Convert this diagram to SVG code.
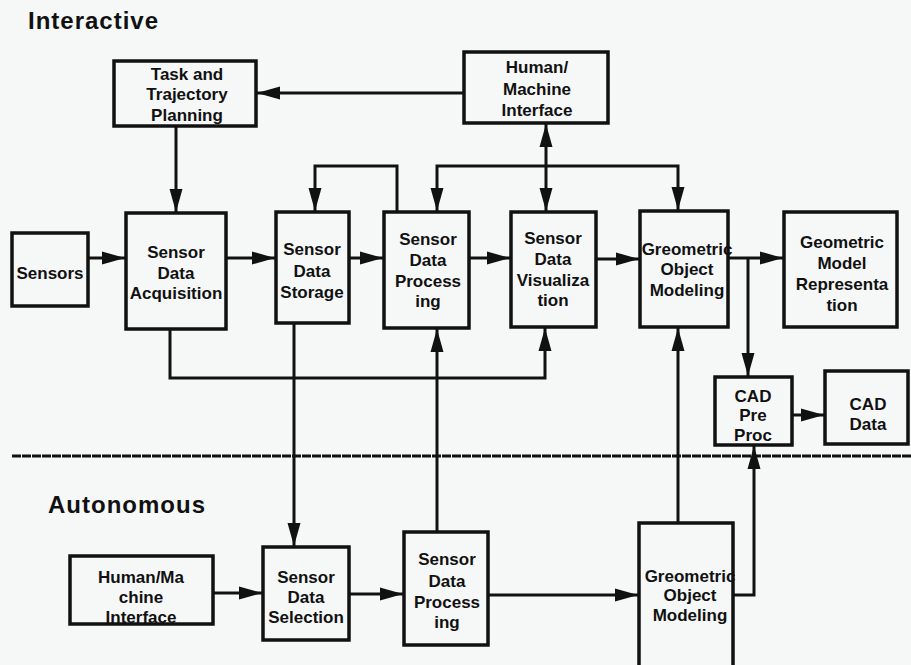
<svg xmlns="http://www.w3.org/2000/svg" width="911" height="665" viewBox="0 0 911 665">
<defs>
<style>
.bg{fill:#f6f8f8}
.box{fill:none;stroke:#111;stroke-width:3.5}
.c{fill:none;stroke:#111;stroke-width:3}
.t{font-family:"Liberation Sans",Arial,Helvetica,sans-serif;font-weight:bold;font-size:17px;text-anchor:middle;fill:#111}
.h{font-family:"Liberation Sans",Arial,Helvetica,sans-serif;font-weight:bold;font-size:24px;letter-spacing:1px;fill:#111}
</style>
<marker id="ah" markerUnits="userSpaceOnUse" markerWidth="24" markerHeight="14" refX="23" refY="7" orient="auto-start-reverse" viewBox="0 0 24 14">
<path d="M0,0.5 L23,7 L0,13.5 z" fill="#111"/>
</marker>
</defs>
<rect class="bg" x="0" y="0" width="911" height="665"/>

<text class="h" x="28" y="29">Interactive</text>
<text class="h" x="48" y="513">Autonomous</text>
<line x1="12" y1="456" x2="911" y2="456" stroke="#111" stroke-width="3" stroke-dasharray="9 1"/>

<g id="connectors">
<path class="c" d="M464,93 L257,93" marker-end="url(#ah)"/>
<path class="c" d="M176,126 L176,212" marker-end="url(#ah)"/>
<path class="c" d="M88,258 L125,258" marker-end="url(#ah)"/>
<path class="c" d="M226,258 L275,258" marker-end="url(#ah)"/>
<path class="c" d="M349,258 L383,258" marker-end="url(#ah)"/>
<path class="c" d="M469,258 L510,258" marker-end="url(#ah)"/>
<path class="c" d="M596,259 L639,259" marker-end="url(#ah)"/>
<path class="c" d="M728,258 L783,258" marker-end="url(#ah)"/>
<path class="c" d="M748,258 L748,376" marker-end="url(#ah)"/>
<path class="c" d="M792,415 L824,415" marker-end="url(#ah)"/>
<path class="c" d="M546,124 L546,211" marker-start="url(#ah)" marker-end="url(#ah)"/>
<path class="c" d="M546,166 L437,166 L437,211" marker-end="url(#ah)"/>
<path class="c" d="M546,166 L678,166 L678,210" marker-end="url(#ah)"/>
<path class="c" d="M397,212 L397,166 L315,166 L315,211" marker-end="url(#ah)"/>
<path class="c" d="M170,329 L170,378 L545,378 L545,328" marker-end="url(#ah)"/>
<path class="c" d="M294,323 L294,546" marker-end="url(#ah)"/>
<path class="c" d="M213,593 L262,593" marker-end="url(#ah)"/>
<path class="c" d="M349,594 L403,594" marker-end="url(#ah)"/>
<path class="c" d="M437,532 L437,329" marker-end="url(#ah)"/>
<path class="c" d="M488,595 L638,595" marker-end="url(#ah)"/>
<path class="c" d="M678,523 L678,328" marker-end="url(#ah)"/>
<path class="c" d="M733,595 L754,595 L754,446" marker-end="url(#ah)"/>
</g>

<g id="task-planning">
<rect class="box" x="114" y="61" width="142" height="65"/>
<text class="t" x="187"><tspan x="187" y="80">Task and</tspan><tspan x="187" y="100">Trajectory</tspan><tspan x="187" y="121">Planning</tspan></text>
</g>
<g id="hmi-top">
<rect class="box" x="464" y="52" width="144" height="71"/>
<text class="t" x="537"><tspan x="537" y="73">Human/</tspan><tspan x="537" y="95">Machine</tspan><tspan x="537" y="116">Interface</tspan></text>
</g>
<g id="sensors">
<rect class="box" x="12" y="233" width="76" height="73"/>
<text class="t" x="50" y="279">Sensors</text>
</g>
<g id="acquisition">
<rect class="box" x="126" y="213" width="100" height="116"/>
<text class="t" x="176"><tspan x="176" y="258">Sensor</tspan><tspan x="176" y="279">Data</tspan><tspan x="176" y="299">Acquisition</tspan></text>
</g>
<g id="storage">
<rect class="box" x="276" y="212" width="73" height="111"/>
<text class="t" x="312"><tspan x="312" y="255">Sensor</tspan><tspan x="312" y="277">Data</tspan><tspan x="312" y="298">Storage</tspan></text>
</g>
<g id="processing-top">
<rect class="box" x="384" y="212" width="85" height="116"/>
<text class="t" x="428"><tspan x="428" y="245">Sensor</tspan><tspan x="428" y="266">Data</tspan><tspan x="428" y="287">Process</tspan><tspan x="428" y="307">ing</tspan></text>
</g>
<g id="visualization">
<rect class="box" x="511" y="212" width="85" height="115"/>
<text class="t" x="553"><tspan x="553" y="244">Sensor</tspan><tspan x="553" y="265">Data</tspan><tspan x="553" y="286">Visualiza</tspan><tspan x="553" y="306">tion</tspan></text>
</g>
<g id="geometric-top">
<rect class="box" x="640" y="211" width="88" height="116"/>
<text class="t" x="687"><tspan x="687" y="255">Greometric</tspan><tspan x="687" y="275">Object</tspan><tspan x="687" y="296">Modeling</tspan></text>
</g>
<g id="model-representation">
<rect class="box" x="784" y="212" width="113" height="115"/>
<text class="t" x="842"><tspan x="842" y="248">Geometric</tspan><tspan x="842" y="269">Model</tspan><tspan x="842" y="290">Representa</tspan><tspan x="842" y="311">tion</tspan></text>
</g>
<g id="cad-preproc">
<rect class="box" x="715" y="377" width="77" height="68"/>
<text class="t" x="753"><tspan x="753" y="402">CAD</tspan><tspan x="753" y="421">Pre</tspan><tspan x="753" y="441">Proc</tspan></text>
</g>
<g id="cad-data">
<rect class="box" x="825" y="371" width="83" height="73"/>
<text class="t" x="868"><tspan x="868" y="410">CAD</tspan><tspan x="868" y="430">Data</tspan></text>
</g>
<g id="hmi-bottom">
<rect class="box" x="70" y="556" width="143" height="68"/>
<text class="t" x="141"><tspan x="141" y="583">Human/Ma</tspan><tspan x="141" y="603">chine</tspan><tspan x="141" y="623">Interface</tspan></text>
</g>
<g id="selection">
<rect class="box" x="263" y="547" width="86" height="93"/>
<text class="t" x="306"><tspan x="306" y="583">Sensor</tspan><tspan x="306" y="603">Data</tspan><tspan x="306" y="623">Selection</tspan></text>
</g>
<g id="processing-bottom">
<rect class="box" x="404" y="532" width="84" height="113"/>
<text class="t" x="447"><tspan x="447" y="565">Sensor</tspan><tspan x="447" y="587">Data</tspan><tspan x="447" y="608">Process</tspan><tspan x="447" y="628">ing</tspan></text>
</g>
<g id="geometric-bottom">
<rect class="box" x="639" y="523" width="94" height="150"/>
<text class="t" x="690"><tspan x="690" y="582">Greometric</tspan><tspan x="690" y="601">Object</tspan><tspan x="690" y="621">Modeling</tspan></text>
</g>
</svg>
